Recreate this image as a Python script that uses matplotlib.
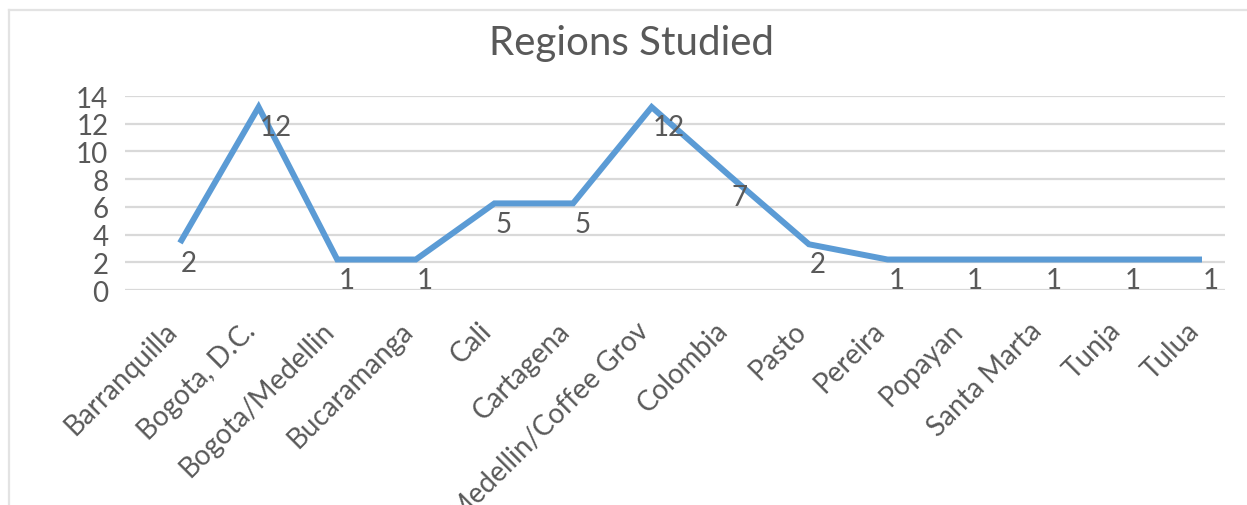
import matplotlib
matplotlib.use("Agg")
import matplotlib.pyplot as plt
from matplotlib.lines import Line2D
from matplotlib.transforms import ScaledTranslation

# ---- data ----
regions = ["Barranquilla", "Bogota, D.C.", "Bogota/Medellin", "Bucaramanga", "Cali",
           "Cartagena", "Medellin/Coffee Grov", "Colombia", "Pasto", "Pereira",
           "Popayan", "Santa Marta", "Tunja", "Tulua"]
# labelled counts
counts = [2, 12, 1, 1, 5, 5, 12, 7, 2, 1, 1, 1, 1, 1]
# height at which the line is drawn in the picture
line_heights = [3.4, 13.2, 2.2, 2.2, 6.25, 6.25, 13.2, 8.2, 3.3, 2.2, 2.2, 2.2, 2.2, 2.2]
y_ticks = [0, 2, 4, 6, 8, 10, 12, 14]
title = "Regions Studied"

TEXT = "#595959"
BLUE = "#5b9bd5"
GRID = "#d9d9d9"

plt.rcParams['font.family'] = ['Lato', 'DejaVu Sans']

W, H = 1247, 506
fig = plt.figure(figsize=(W / 100, H / 100), dpi=100)
fig.patch.set_facecolor("white")

# axes placement in pixels
left, right, top, bottom = 125, 1225, 97, 291
ax = fig.add_axes([left / W, 1 - bottom / H, (right - left) / W, (bottom - top) / H])

x = list(range(len(regions)))
ax.plot(x, line_heights, color=BLUE, lw=4.3, solid_joinstyle="miter",
        solid_capstyle="butt", zorder=3, clip_on=False)

for xi, yi, c in zip(x, line_heights, counts):
    ax.annotate(str(c), (xi, yi), xytext=(0.7, -14.5), textcoords="offset points",
                ha="left", va="center", fontsize=20, color=TEXT, zorder=4,
                annotation_clip=False)

# x scaling: first point at 180 px, last at 1202 px
unit = (1202 - 180) / (len(regions) - 1)
ax.set_xlim(-(180 - left) / unit, (len(regions) - 1) + (right - 1202) / unit)
ax.set_ylim(0, 14)
ax.set_yticks(y_ticks)
ax.yaxis.grid(True, color=GRID, lw=1.6)
ax.set_axisbelow(True)
for s in ax.spines.values():
    s.set_visible(False)
ax.tick_params(axis="y", length=0, pad=12, labelsize=20, labelcolor=TEXT)

ax.set_xticks(x)
ax.set_xticklabels(regions, rotation=45, ha="right", va="center",
                   rotation_mode="anchor", fontsize=20, color=TEXT)
ax.tick_params(axis="x", length=0, pad=26)
offset = ScaledTranslation(-0.07, 0, fig.dpi_scale_trans)
for lbl in ax.get_xticklabels():
    lbl.set_transform(lbl.get_transform() + offset)

fig.text(631.5 / W, 1 - 54.5 / H, title, ha="center", va="baseline",
         fontsize=29, color=TEXT)

# chart-area border (top and left edges visible)
fig.add_artist(Line2D([9 / W, 1], [1 - 11 / H, 1 - 11 / H], color="#e3e3e3", lw=1.6,
                      transform=fig.transFigure))
fig.add_artist(Line2D([9 / W, 9 / W], [0, 1 - 11 / H], color="#e3e3e3", lw=1.6,
                      transform=fig.transFigure))

fig.savefig("out.png", dpi=100)
